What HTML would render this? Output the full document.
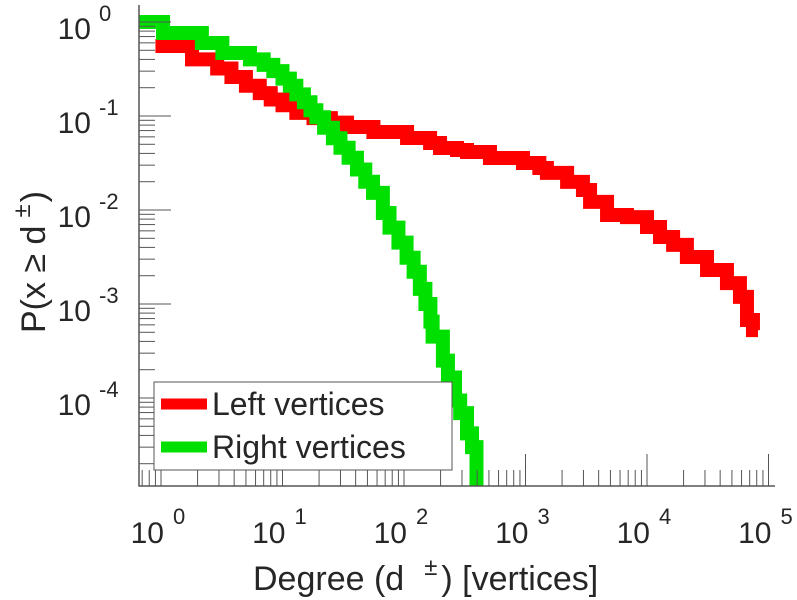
<!DOCTYPE html>
<html><head><meta charset="utf-8"><style>
body{margin:0;background:#fff}
svg text{font-family:"Liberation Sans",sans-serif;fill:#262626}
</style></head><body>
<svg id="c" width="797" height="600" xmlns="http://www.w3.org/2000/svg" style="position:absolute;left:0;top:0">
<defs><clipPath id="pc"><rect x="139" y="5" width="640" height="481"/></clipPath></defs>
<g id="marks" clip-path="url(#pc)"></g>
<g id="axes"></g>
</svg>
<script>
const redDeg=[0.9,1.8,2.9,3.8,5,6.5,8,10,13,18,25,34,56,106,164,198,273,330,510,953,1300,1500,2200,2970,3400,4690,6840,10000,12800,16400,21300,31200,45500,58200,66500,74500];
const redVal=[0.556,0.40,0.32,0.26,0.21,0.175,0.15,0.13,0.108,0.095,0.085,0.0764,0.0676,0.0583,0.0516,0.0457,0.0435,0.0414,0.0357,0.0316,0.028,0.0248,0.0199,0.0163,0.0122,0.00885,0.0084,0.0066,0.00516,0.00425,0.00316,0.0023,0.00167,0.00119,0.000676,0.000528];
const redEnd=82000;
const greenDeg=[0.65,1.04,2.17,3.2,5.4,7,8.4,10,11.5,13,15,17,19,22,26,30,35,41,48,55.6,67,76,90,105,120,135,150,165,172,209,230,263,290,330,363,395];
const greenVal=[1.0,0.764,0.598,0.468,0.40,0.35,0.30,0.25,0.21,0.17,0.14,0.115,0.097,0.075,0.058,0.046,0.036,0.027,0.02,0.0152,0.0093,0.0065,0.0045,0.0031,0.0022,0.00145,0.001,0.00065,0.00045,0.00025,0.000165,0.000094,0.000069,0.000042,0.00003,0.000001];
const greenEnd=395;
const xTickExp=[0,1,2,3,4,5];
const yTickExp=[0,-1,-2,-3,-4];
const NS='http://www.w3.org/2000/svg';
const X=d=>161+121.5*Math.log10(d);
const Y=v=>22-94*Math.log10(v);
const L=139,B=486,T=5,R=775;
function mk(t,a,p){const e=document.createElementNS(NS,t);for(const k in a)e.setAttribute(k,a[k]);(p||document.getElementById('axes')).appendChild(e);return e;}
const marks=document.getElementById('marks');
function stairs(ds,vs,col,name,endD){
 let d='M'+X(ds[0])+' '+Y(vs[0]);
 for(let i=1;i<ds.length;i++){d+=' H'+X(ds[i])+' V'+Y(vs[i]);}
 d+=' H'+X(endD);
 const p=mk('path',{d:d,fill:'none',stroke:col,'stroke-width':14,'stroke-linejoin':'miter'},marks);
 
 
}
stairs(redDeg,redVal,'#ff0000','left-vertices-line',redEnd);
stairs(greenDeg,greenVal,'#00e000','right-vertices-line',greenEnd);
const ax=mk('path',{d:`M${L} ${T} V${B} H${R}`,fill:'none',stroke:'#555','stroke-width':1.5});


for(let m=7;m<10;m++){const xm=X(m/10);mk('line',{x1:xm,x2:xm,y1:B,y2:B-16,stroke:'#555'});}
xTickExp.forEach((e,i)=>{
 const x=X(Math.pow(10,e));
 mk('line',{x1:x,x2:x,y1:B,y2:B-32,stroke:'#555'});
 if(i<xTickExp.length-1){for(let m=2;m<10;m++){const xm=X(m*Math.pow(10,e));mk('line',{x1:xm,x2:xm,y1:B,y2:B-16,stroke:'#555'});}}
 const t=mk('text',{x:x+3,y:543,'font-size':30,'text-anchor':'end'});t.textContent='10';
 
 
 const s=mk('text',{x:x+12,y:524,'font-size':22});s.textContent=String(e);
});
yTickExp.forEach(e=>{
 const y=Y(Math.pow(10,e));
 mk('line',{x1:L,x2:L+32,y1:y,y2:y,stroke:'#555'});
 for(let m=1;m<10;m++){const ym=Y(m*Math.pow(10,e-1));if(ym<=B)mk('line',{x1:L,x2:L+16,y1:ym,y2:ym,stroke:'#555'});}
 const t=mk('text',{x:91,y:y+17,'font-size':30,'text-anchor':'end'});t.textContent='10';
 
 
 const s=mk('text',{x:99,y:y-1,'font-size':22});s.textContent=String(e);
});
</script>
<svg style="position:absolute;left:0;top:0" width="797" height="600" xmlns="http://www.w3.org/2000/svg">
<text x="253" y="590" font-size="34">Degree (d<tspan dx="20" dy="-15" font-size="24">±</tspan><tspan dx="4" dy="15">) [vertices]</tspan></text>
<text transform="translate(45,333) rotate(-90)" font-size="34">P(x ≥ d<tspan dx="8" dy="-15" font-size="24">±</tspan><tspan dx="2" dy="15">)</tspan></text>
<g>
<rect x="154" y="382" width="298" height="88" fill="#fff" stroke="#555" stroke-width="1"/>
<line x1="161" x2="207" y1="404" y2="404" stroke="#ff0000" stroke-width="11"/>
<text x="212" y="415" font-size="32">Left vertices</text>
<line x1="161" x2="207" y1="447" y2="447" stroke="#00e000" stroke-width="11"/>
<text x="212" y="458" font-size="32">Right vertices</text>
</g>
</svg>
</body></html>
